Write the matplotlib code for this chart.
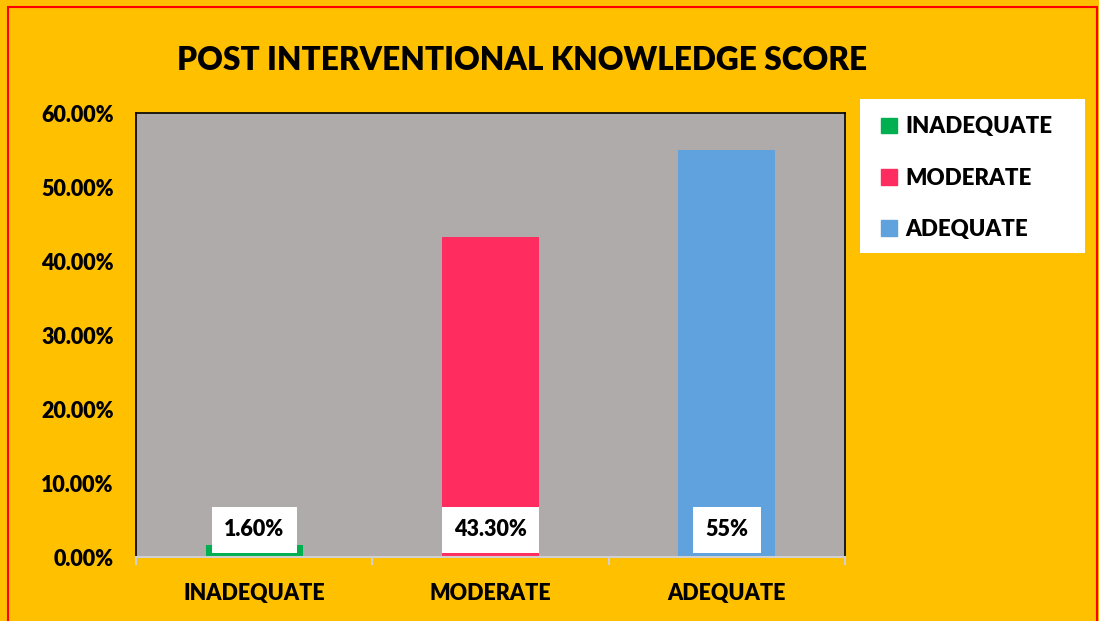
import matplotlib
matplotlib.use('Agg')
import matplotlib.pyplot as plt
import matplotlib.patches as mpatches

# data
categories = ['INADEQUATE', 'MODERATE', 'ADEQUATE']
values = [0.016, 0.433, 0.55]
value_labels = ['1.60%', '43.30%', '55%']
bar_colors = ['#00B050', '#FF2D5F', '#5FA2DD']
yticks = [0.0, 0.1, 0.2, 0.3, 0.4, 0.5, 0.6]

WEIGHT = 'heavy'
plt.rcParams['font.family'] = ['Lato', 'DejaVu Sans']
plt.rcParams['font.weight'] = WEIGHT

W, H = 1099, 621
fig = plt.figure(figsize=(W / 100, H / 100), dpi=100)
fig.patch.set_facecolor('#FFC000')

# red outer border
fig.patches.append(mpatches.Rectangle((8 / W, -0.05), (1097 - 8) / W, 1.05 - 7 / H,
                                      transform=fig.transFigure, fill=False,
                                      edgecolor='#FF0000', linewidth=1.5))
# white legend panel
fig.patches.append(mpatches.Rectangle((860 / W, 1 - 253 / H), 225 / W, 154 / H,
                                      transform=fig.transFigure, facecolor='white',
                                      edgecolor='none'))

ax = fig.add_axes([136 / W, 64 / H, 709 / W, 444 / H])
ax.set_facecolor('#AFABAB')

x = range(len(categories))
ax.bar(x, values, width=0.41, color=bar_colors, zorder=2)

ax.set_xlim(-0.5, 2.5)
ax.set_ylim(0, 0.6)
ax.set_yticks(yticks)
ax.set_yticklabels(['{:.2f}%'.format(v * 100) for v in yticks])
ax.tick_params(axis='y', length=0, pad=16)

ax.set_xticks(list(x))
ax.set_xticklabels(categories)
ax.tick_params(axis='x', which='major', length=0, pad=19)
ax.set_xticks([-0.5, 0.5, 1.5, 2.5], minor=True)
ax.tick_params(axis='x', which='minor', length=6, color='#D0D0D0', width=1.5)

for lab in ax.get_xticklabels() + ax.get_yticklabels():
    lab.set_fontsize(15.5)
    lab.set_fontweight(WEIGHT)

for side in ['left', 'right', 'top']:
    ax.spines[side].set_color('black')
    ax.spines[side].set_linewidth(1.2)
ax.spines['bottom'].set_color('#D0D0D0')
ax.spines['bottom'].set_linewidth(1.5)

# data labels near the base of each bar
for i, lab in enumerate(value_labels):
    ax.text(i, 0.037, lab, ha='center', va='center', fontsize=15.5, fontweight=WEIGHT,
            zorder=3, bbox=dict(facecolor='white', edgecolor='none', pad=9))

fig.text(522 / W, 1 - 60 / H, 'POST INTERVENTIONAL KNOWLEDGE SCORE',
         ha='center', va='center', fontsize=22.8, fontweight=WEIGHT)

handles = [mpatches.Patch(color=c, label=l) for c, l in zip(bar_colors, categories)]
leg = fig.legend(handles=handles, loc='upper left',
                 bbox_to_anchor=(868 / W, 1 - 103 / H), borderaxespad=0,
                 frameon=False, prop={'size': 16, 'weight': WEIGHT},
                 handlelength=0.7, handleheight=0.7, handletextpad=0.4,
                 labelspacing=1.36, borderpad=0.6)

fig.savefig('out.png', dpi=100, facecolor=fig.get_facecolor())
